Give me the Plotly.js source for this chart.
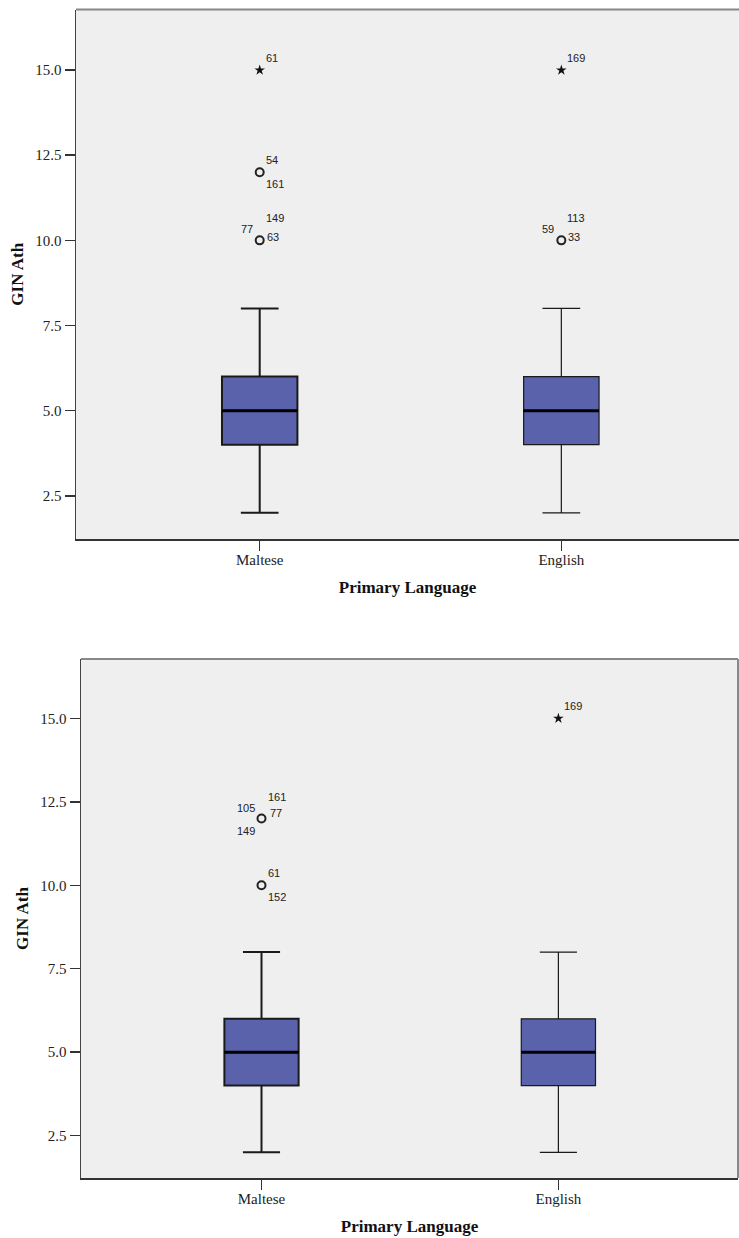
<!DOCTYPE html>
<html>
<head>
<meta charset="utf-8">
<script src="https://cdn.plot.ly/plotly-3.0.1.min.js"></script>
<style>html,body{margin:0;padding:0;background:#fff;}#chart{width:739px;height:1238px;}</style>
</head>
<body>
<div id="chart"></div>
<script>
// ---------- DATA ----------
const categories = ['Maltese', 'English'];
const yTickValues = [2.5, 5.0, 7.5, 10.0, 12.5, 15.0];
const xAxisTitle = 'Primary Language';
const yAxisTitle = 'GIN Ath';

// Top chart box statistics
const topQ1 = [4, 4];
const topMedian = [5, 5];
const topQ3 = [6, 6];
const topLowerWhisker = [2, 2];
const topUpperWhisker = [8, 8];
// Top chart outliers
const topCircleCat = ['Maltese', 'Maltese', 'English'];
const topCircleVal = [12, 10, 10];
const topStarCat = ['Maltese', 'English'];
const topStarVal = [15, 15];
// Top chart case labels
const topLabelText = ['61', '54', '161', '149', '77', '63', '169', '113', '59', '33'];
const topLabelCat = ['Maltese', 'Maltese', 'Maltese', 'Maltese', 'Maltese', 'Maltese', 'English', 'English', 'English', 'English'];
const topLabelVal = [15, 12, 12, 10, 10, 10, 15, 10, 10, 10];

// Bottom chart box statistics
const botQ1 = [4, 4];
const botMedian = [5, 5];
const botQ3 = [6, 6];
const botLowerWhisker = [2, 2];
const botUpperWhisker = [8, 8];
// Bottom chart outliers
const botCircleCat = ['Maltese', 'Maltese'];
const botCircleVal = [12, 10];
const botStarCat = ['English'];
const botStarVal = [15];
// Bottom chart case labels
const botLabelText = ['161', '105', '77', '149', '61', '152', '169'];
const botLabelCat = ['Maltese', 'Maltese', 'Maltese', 'Maltese', 'Maltese', 'Maltese', 'English'];
const botLabelVal = [12, 12, 12, 12, 10, 10, 15];

// ---------- STYLE ----------
const topLabelPlace = ['b', 'b', 'd', 'a', 'e', 'c', 'b', 'a', 'e', 'c'];
const botLabelPlace = ['a', 'e', 'c2', 'f', 'b', 'd', 'b'];
const placeMap = {
  a: {xs: 4, ys: 22, xa: 'left'},
  b: {xs: 4, ys: 12, xa: 'left'},
  c: {xs: 5, ys: 3, xa: 'left'},
  c2: {xs: 6, ys: 6, xa: 'left'},
  d: {xs: 4, ys: -12, xa: 'left'},
  e: {xs: -5, ys: 11, xa: 'right'},
  f: {xs: -5, ys: -12, xa: 'right'}
};
const boxWidth = 0.25;
const boxFill = '#5A62AC';
const whiskerWidths = [2, 1.2];
const W = 739, H = 1238;
const serif = 'Liberation Serif, Times New Roman, serif';
const sans = 'Liberation Sans, Arial, sans-serif';

function idx(c) { return categories.indexOf(c); }

function buildTraces(xa, ya, q1, med, q3, lo, hi, cCat, cVal, sCat, sVal) {
  const traces = [];
  categories.forEach((c, i) => {
    traces.push({
      type: 'box', x: [i], q1: [q1[i]], median: [med[i]], q3: [q3[i]],
      lowerfence: [lo[i]], upperfence: [hi[i]],
      width: boxWidth, whiskerwidth: 0.5,
      fillcolor: boxFill, line: {color: '#1a1a1a', width: whiskerWidths[i]},
      boxpoints: false, xaxis: xa, yaxis: ya, hoverinfo: 'skip', showlegend: false
    });
    traces.push({
      type: 'scatter', mode: 'lines',
      x: [i - boxWidth / 2, i + boxWidth / 2], y: [med[i], med[i]],
      line: {color: '#000', width: 3}, xaxis: xa, yaxis: ya, hoverinfo: 'skip', showlegend: false
    });
  });
  traces.push({
    type: 'scatter', mode: 'markers', x: cCat.map(idx), y: cVal,
    marker: {symbol: 'circle-open', size: 8, color: '#222', line: {width: 2, color: '#222'}},
    xaxis: xa, yaxis: ya, hoverinfo: 'skip', showlegend: false
  });
  traces.push({
    type: 'scatter', mode: 'markers', x: sCat.map(idx), y: sVal,
    marker: {symbol: 'star', size: 8, color: '#111', line: {width: 0}},
    xaxis: xa, yaxis: ya, hoverinfo: 'skip', showlegend: false
  });
  return traces;
}

function buildLabels(xr, yr, txt, cat, val, place) {
  return txt.map((t, k) => {
    const p = placeMap[place[k]];
    return {
      xref: xr, yref: yr, x: idx(cat[k]), y: val[k], text: t, showarrow: false,
      xanchor: p.xa, yanchor: 'middle', xshift: p.xs, yshift: p.ys,
      font: {family: sans, size: 11, color: '#222'}
    };
  });
}

const traces = [].concat(
  buildTraces('x', 'y', topQ1, topMedian, topQ3, topLowerWhisker, topUpperWhisker, topCircleCat, topCircleVal, topStarCat, topStarVal),
  buildTraces('x2', 'y2', botQ1, botMedian, botQ3, botLowerWhisker, botUpperWhisker, botCircleCat, botCircleVal, botStarCat, botStarVal)
);

function xAxisDef(domain, range, anchor) {
  return {
    domain: domain, range: range, anchor: anchor,
    tickmode: 'array', tickvals: categories.map((c, i) => i), ticktext: categories,
    ticks: 'outside', ticklen: 10, tickwidth: 1.5, tickcolor: '#333',
    ticklabelstandoff: -4,
    showline: true, linecolor: '#333', linewidth: 2,
    showgrid: false, zeroline: false, automargin: false, fixedrange: true,
    tickfont: {family: serif, size: 15, color: '#222'},
    title: {text: xAxisTitle, standoff: 14, font: {family: serif, size: 17, color: '#111', weight: 'bold'}}
  };
}
function yAxisDef(domain, anchor) {
  return {
    domain: domain, range: [1.23, 16.78], anchor: anchor,
    tickmode: 'array', tickvals: yTickValues, tickformat: '.1f',
    ticks: 'outside', ticklen: 10, tickwidth: 1.5, tickcolor: '#333',
    showline: true, linecolor: '#444', linewidth: 1.5,
    showgrid: false, zeroline: false, automargin: false, fixedrange: true,
    tickfont: {family: serif, size: 15, color: '#222'},
    title: {text: yAxisTitle, standoff: 7, font: {family: serif, size: 17, color: '#111', weight: 'bold'}}
  };
}

const layout = {
  width: W, height: H,
  margin: {l: 0, r: 0, t: 0, b: 0},
  paper_bgcolor: '#fff', plot_bgcolor: '#EFEFEF',
  showlegend: false,
  xaxis: xAxisDef([76 / W, 1], [-0.609, 1.589], 'y'),
  yaxis: yAxisDef([1 - 539 / H, 1 - 9.5 / H], 'x'),
  xaxis2: xAxisDef([81 / W, 738 / W], [-0.608, 1.605], 'y2'),
  yaxis2: yAxisDef([1 - 1178 / H, 1 - 659 / H], 'x2'),
  shapes: [
    {type: 'line', xref: 'x domain', yref: 'y domain', x0: 0, x1: 1, y0: 1, y1: 1, line: {color: '#888', width: 2}},
    {type: 'line', xref: 'x2 domain', yref: 'y2 domain', x0: 0, x1: 1, y0: 1, y1: 1, line: {color: '#888', width: 2}},
    {type: 'line', xref: 'x2 domain', yref: 'y2 domain', x0: 1, x1: 1, y0: 0, y1: 1, line: {color: '#888', width: 2}}
  ],
  annotations: [].concat(
    buildLabels('x', 'y', topLabelText, topLabelCat, topLabelVal, topLabelPlace),
    buildLabels('x2', 'y2', botLabelText, botLabelCat, botLabelVal, botLabelPlace)
  )
};

Plotly.newPlot('chart', traces, layout, {displayModeBar: false, staticPlot: true});
</script>
</body>
</html>
